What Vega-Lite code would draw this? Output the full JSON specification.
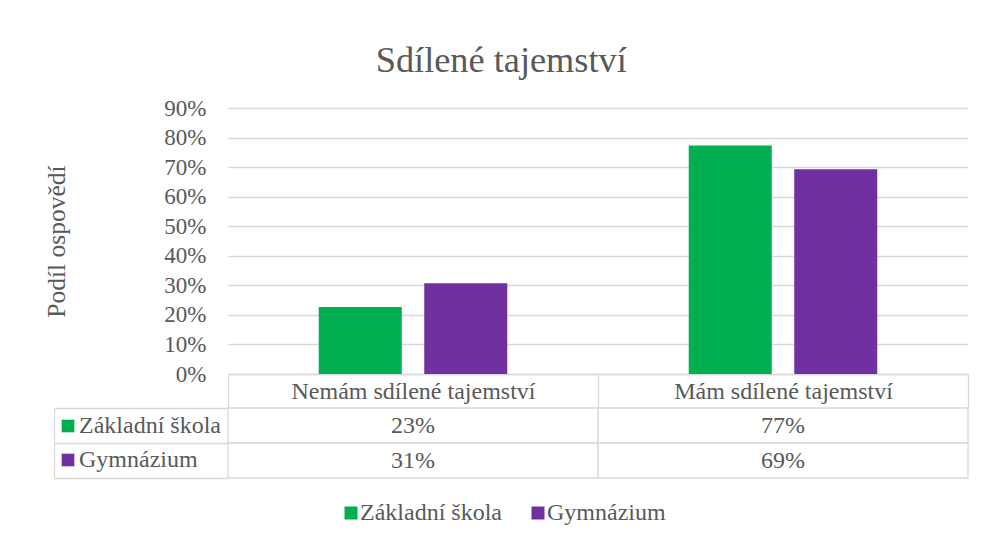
{
  "$schema": "https://vega.github.io/schema/vega-lite/v6.json",
  "background": "white",
  "padding": {"left": 44, "top": 42, "right": 8, "bottom": 0},
  "title": {"text": "Sdílené tajemství", "fontSize": 36.3, "font": "Liberation Serif", "fontWeight": "normal", "color": "#595959", "anchor": "middle", "offset": 18, "dx": -5.5},
  "datasets": {
    "hodnoty": [
      {"kategorie": "Nemám sdílené tajemství", "skupina": "Základní škola", "podil": 0.227},
      {"kategorie": "Nemám sdílené tajemství", "skupina": "Gymnázium", "podil": 0.307},
      {"kategorie": "Mám sdílené tajemství", "skupina": "Základní škola", "podil": 0.773},
      {"kategorie": "Mám sdílené tajemství", "skupina": "Gymnázium", "podil": 0.693}
    ]
  },
  "config": {
    "font": "Liberation Serif",
    "view": {"stroke": null},
    "axis": {"labelFont": "Liberation Serif", "titleFont": "Liberation Serif", "labelColor": "#595959", "titleColor": "#595959"}
  },
  "spacing": 34,
  "bounds": "flush",
  "vconcat": [
    {
      "width": 740,
      "height": 266,
      "data": {"name": "hodnoty"},
      "mark": {"type": "bar"},
      "encoding": {
        "x": {"field": "kategorie", "type": "nominal", "sort": ["Nemám sdílené tajemství", "Mám sdílené tajemství"],
              "scale": {"paddingInner": 0, "paddingOuter": 0},
              "axis": {"title": null, "labelAngle": 0, "labelLimit": 0, "labelFontSize": 24, "labelBaseline": "middle", "labelPadding": -17,
                       "ticks": true, "tickBand": "extent", "tickSize": 34, "tickColor": "#d9d9d9", "tickWidth": 1.3,
                       "domainColor": "#d9d9d9", "domainWidth": 1.3}},
        "xOffset": {"field": "skupina", "type": "nominal", "sort": ["Základní škola", "Gymnázium"],
                    "scale": {"paddingInner": 0.213, "paddingOuter": 0.86}},
        "y": {"field": "podil", "type": "quantitative",
              "scale": {"domain": [0, 0.9]},
              "axis": {"values": [0, 0.1, 0.2, 0.3, 0.4, 0.5, 0.6, 0.7, 0.8, 0.9], "format": ".0%",
                       "title": "Podíl ospovědí", "titleFontSize": 25.5, "titleFontWeight": "normal", "titlePadding": 94,
                       "labelFontSize": 23, "labelPadding": 22, "ticks": false, "domain": false,
                       "gridColor": "#d9d9d9", "gridWidth": 1.3}},
        "color": {"field": "skupina", "type": "nominal", "sort": ["Základní škola", "Gymnázium"],
                  "scale": {"domain": ["Základní škola", "Gymnázium"], "range": ["#00b050", "#7030a0"]},
                  "legend": {"orient": "none", "legendX": 111, "legendY": 393, "direction": "horizontal", "title": null,
                             "symbolType": "square", "symbolSize": 169, "symbolStrokeWidth": 0,
                             "labelFontSize": 24, "labelFont": "Liberation Serif", "labelColor": "#595959",
                             "columnPadding": 24, "labelOffset": -3}}
      }
    },
    {
      "width": 740,
      "height": 70,
      "data": {"name": "hodnoty"},
      "encoding": {
        "x": {"field": "kategorie", "type": "nominal",
              "scale": {"domain": ["Nemám sdílené tajemství", "Mám sdílené tajemství"], "paddingInner": 0, "paddingOuter": 0},
              "axis": null},
        "y": {"field": "skupina", "type": "nominal",
              "scale": {"domain": ["Základní škola", "Gymnázium"], "paddingInner": 0, "paddingOuter": 0},
              "axis": {"orient": "left", "offset": 174, "title": null, "labels": false, "grid": false,
                       "domain": true, "domainColor": "#d9d9d9", "domainWidth": 1.3,
                       "ticks": true, "tickSize": -174, "tickBand": "extent", "tickColor": "#d9d9d9", "tickWidth": 1.3}}
      },
      "layer": [
        {"mark": {"type": "rect", "fill": "white", "stroke": "#d9d9d9", "strokeWidth": 1.3}},
        {"mark": {"type": "point", "shape": "square", "filled": true, "opacity": 0},
         "encoding": {"fill": {"field": "skupina", "type": "nominal", "sort": "descending",
                               "scale": {"range": ["#00b050", "#7030a0"]},
                               "legend": {"orient": "none", "legendX": -172, "legendY": 306, "direction": "vertical", "title": null,
                                          "symbolType": "square", "symbolSize": 160, "symbolStrokeWidth": 0, "symbolOpacity": 1,
                                          "labelFontSize": 24, "labelFont": "Liberation Serif", "labelColor": "#595959",
                                          "rowPadding": 10, "labelOffset": -1}}}},
        {"mark": {"type": "text", "fontSize": 24, "color": "#595959", "font": "Liberation Serif"},
         "encoding": {"text": {"field": "podil", "type": "quantitative", "format": ".0%"}}}
      ]
    }
  ]
}
